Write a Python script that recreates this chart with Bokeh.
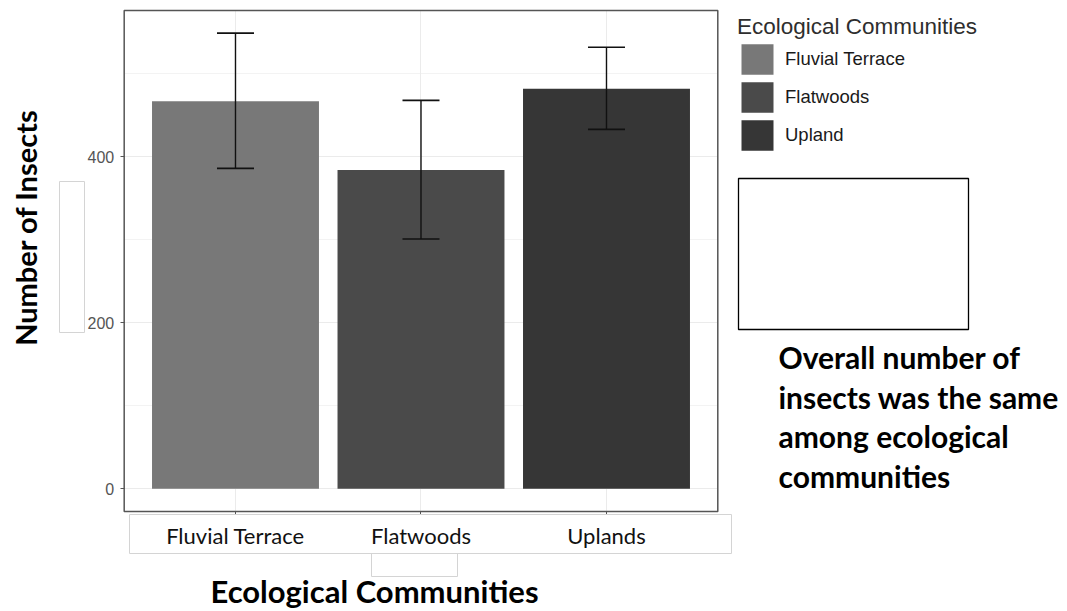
from bokeh.plotting import figure
from bokeh.models import (ColumnDataSource, Range1d, FixedTicker, Whisker, TeeHead, LinearAxis, Grid,
                          Legend, LegendItem, Label, BoxAnnotation)
from bokeh.embed import file_html
from bokeh.resources import INLINE

# ---- data ----
categories = ["Fluvial Terrace", "Flatwoods", "Uplands"]
legend_labels = ["Fluvial Terrace", "Flatwoods", "Upland"]
means = [467, 384, 482]
err_upper = [549, 468, 532]
err_lower = [386, 301, 433]
bar_colors = ["#787878", "#4a4a4a", "#363636"]
y_ticks = [0, 200, 400]
y_minor = [100, 300, 500]
x_title = "Ecological Communities"
y_title = "Number of Insects"
legend_title = "Ecological Communities"
note_lines = ["Overall number of", "insects was the same", "among ecological", "communities"]

W, H = 1067, 611
# plotting panel limits (data units)
px0, px1 = -0.6, len(categories) - 1 + 0.6
py0, py1 = -27.4, 576.3

xs = list(range(len(categories)))
src = ColumnDataSource(dict(x=xs, cat=categories, mean=means, upper=err_upper, lower=err_lower, color=bar_colors))

p = figure(width=W, height=H, output_backend="svg", toolbar_location=None,
           x_range=Range1d(-1.2668, 4.4852), y_range=Range1d(-147.8, 588.3),
           x_axis_location=None, y_axis_location=None, min_border=0)
p.title.visible = False
p.outline_line_color = None
p.background_fill_color = "white"
p.border_fill_color = "white"
p.grid.visible = False

yt = FixedTicker(ticks=y_ticks, minor_ticks=y_minor)
xt = FixedTicker(ticks=xs)

# grids limited to the panel
p.add_layout(Grid(dimension=1, ticker=yt, cross_bounds=(px0, px1), grid_line_color="#ebebeb",
                  minor_grid_line_color="#f3f3f3", level="underlay"))
p.add_layout(Grid(dimension=0, ticker=xt, cross_bounds=(py0, py1), grid_line_color="#ebebeb",
                  level="underlay"))

r = p.vbar(x="x", top="mean", width=0.9, source=src, fill_color="color", line_color=None)

wh = Whisker(source=src, base="x", upper="upper", lower="lower", line_color="#111111", line_width=1.4,
             upper_head=TeeHead(size=37, line_color="#111111", line_width=1.6),
             lower_head=TeeHead(size=37, line_color="#111111", line_width=1.6), level="overlay")
p.add_layout(wh)

# panel border
p.add_layout(BoxAnnotation(left=px0, right=px1, bottom=py0, top=py1, fill_alpha=0,
                           line_color="#555555", line_alpha=1, line_width=1.5, level="overlay"))

# axes at fixed locations
ya = LinearAxis(ticker=yt, fixed_location=px0, bounds=(py0, py1))
ya.axis_line_color = None
ya.major_tick_in = 0
ya.major_tick_out = 4
ya.major_tick_line_color = "#555555"
ya.minor_tick_line_color = None
ya.major_label_text_font = "Liberation Sans"
ya.major_label_text_font_size = "16px"
ya.major_label_text_color = "#555555"
ya.major_label_standoff = 6
p.add_layout(ya, "left")

xa = LinearAxis(ticker=xt, fixed_location=py0, bounds=(px0, px1),
                major_label_overrides={i: c for i, c in enumerate(categories)})
xa.axis_line_color = None
xa.major_tick_in = 0
xa.major_tick_out = 3
xa.major_tick_line_color = "#555555"
xa.minor_tick_line_color = None
xa.major_label_text_font = "Lato"
xa.major_label_text_font_size = "22px"
xa.major_label_text_color = "#111111"
xa.major_label_standoff = 7
p.add_layout(xa, "below")

# legend
items = [LegendItem(label=legend_labels[i], renderers=[r], index=i) for i in range(3)]
leg = Legend(items=items, title=legend_title, location=(737, 457), margin=0, padding=0,
             glyph_width=40, glyph_height=38, label_height=38, spacing=0, label_standoff=8,
             title_standoff=0, border_line_color=None, background_fill_alpha=0,
             title_text_font="Liberation Sans", title_text_font_size="22.5px", title_text_color="#2e2e2e",
             title_text_font_style="normal",
             label_text_font="Liberation Sans", label_text_font_size="18.5px", label_text_color="#1a1a1a")
p.add_layout(leg)

# axis titles
p.add_layout(Label(x=25, y=384, x_units="screen", y_units="screen", text=y_title, angle=1.5708,
                   text_align="center", text_baseline="middle", text_font="Lato",
                   text_font_style="bold", text_font_size="29px", text_color="black"))
p.add_layout(Label(x=374, y=21, x_units="screen", y_units="screen", text=x_title,
                   text_align="center", text_baseline="middle", text_font="Lato",
                   text_font_style="bold", text_font_size="31px", text_color="black"))

# note text
for i, line in enumerate(note_lines):
    p.add_layout(Label(x=778, y=254.5 - 39.7 * i, x_units="screen", y_units="screen", text=line,
                       text_align="left", text_baseline="middle", text_font="Lato",
                       text_font_style="bold", text_font_size="30px", text_color="black"))

# decorative boxes
def sbox(l, r_, t, b, color, lw):
    p.add_layout(BoxAnnotation(left=l, right=r_, top=t, bottom=b, left_units="screen", right_units="screen",
                               top_units="screen", bottom_units="screen", fill_alpha=0, line_color=color,
                               line_alpha=1, line_width=lw, level="overlay"))

sbox(738, 968, 433, 282, "black", 1.3)
sbox(129, 731, 97, 58, "#d4d4d4", 1)
sbox(59, 84, 430, 279, "#d4d4d4", 1)
sbox(371, 457, 58, 35, "#d4d4d4", 1)

open("out.html", "w").write(file_html(p, INLINE))
